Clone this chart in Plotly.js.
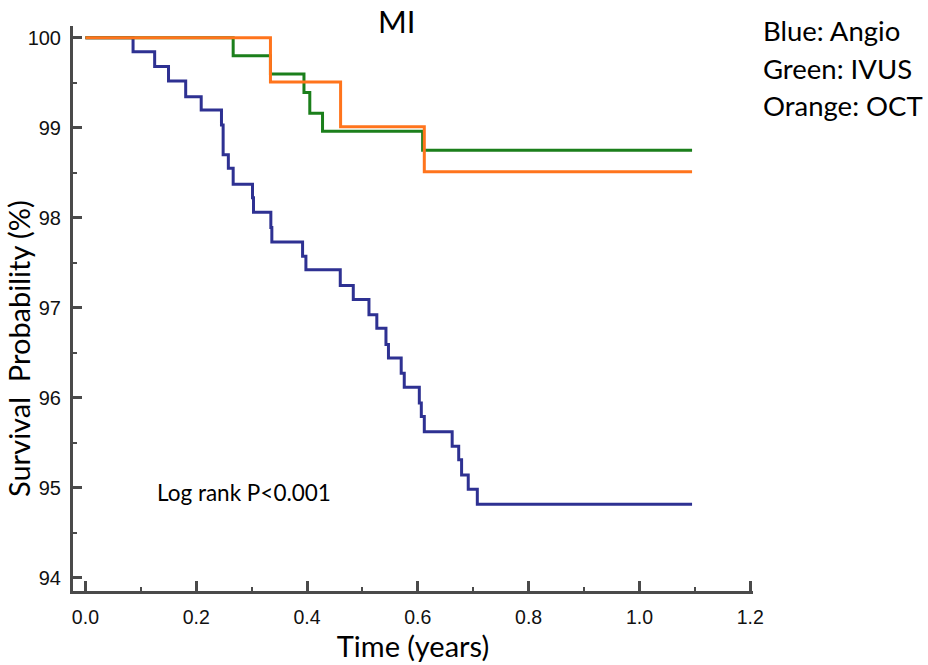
<!DOCTYPE html>
<html>
<head>
<meta charset="utf-8">
<script src="https://cdn.plot.ly/plotly-3.0.1.min.js"></script>
<style>html,body{margin:0;padding:0;background:#fff;}#chart{width:928px;height:665px;}</style>
</head>
<body>
<div id="chart"></div>
<script>
// Kaplan-Meier steps (time in years, survival in %)
var angioTime = [0, 0.086, 0.125, 0.150, 0.181, 0.209, 0.2456, 0.2486, 0.258, 0.2667, 0.3016, 0.3034, 0.3347, 0.3365, 0.392, 0.398, 0.460, 0.4835, 0.5118, 0.526, 0.5425, 0.547, 0.570, 0.5755, 0.6027, 0.6063, 0.6117, 0.662, 0.6738, 0.679, 0.691, 0.7074, 1.095];
var angioSurv = [100, 99.845, 99.68, 99.52, 99.345, 99.197, 99.03, 98.70, 98.55, 98.37, 98.22, 98.06, 97.89, 97.73, 97.57, 97.42, 97.245, 97.09, 96.92, 96.77, 96.59, 96.44, 96.27, 96.115, 95.94, 95.79, 95.62, 95.46, 95.31, 95.14, 94.98, 94.815, 94.815];

var ivusTime = [0, 0.2667, 0.334, 0.3945, 0.405, 0.428, 0.6087, 1.095];
var ivusSurv = [100, 99.8, 99.597, 99.39, 99.16, 98.96, 98.75, 98.75];

var octTime = [0, 0.334, 0.4606, 0.6117, 1.095];
var octSurv = [100, 99.508, 99.01, 98.51, 98.51];

var xTickVals = [0, 0.2, 0.4, 0.6, 0.8, 1.0, 1.2];
var xTickText = ["0.0", "0.2", "0.4", "0.6", "0.8", "1.0", "1.2"];
var yTickVals = [94, 95, 96, 97, 98, 99, 100];

var chartTitle = "MI";
var xTitle = "Time (years)";
var yTitle = "Survival  Probability (%)";
var pText = "Log rank P<0.001";
var legendLines = ["Blue: Angio", "Green: IVUS", "Orange: OCT"];

var axisColor = "#4a4a4a";
var textFont = "Lato, 'Open Sans', sans-serif";
var tickFont = "'Liberation Sans', Arial, sans-serif";

var traces = [
  {x: angioTime, y: angioSurv, name: "Angio", mode: "lines", line: {shape: "hv", color: "#2E3192", width: 3}},
  {x: ivusTime, y: ivusSurv, name: "IVUS", mode: "lines", line: {shape: "hv", color: "#1B7F1B", width: 3}},
  {x: octTime, y: octSurv, name: "OCT", mode: "lines", line: {shape: "hv", color: "#FF741C", width: 3}}
];

var L = 73, R = 753, T = 26, B = 591;
function px(xp){ return (xp - L) / (R - L); }
function py(yp){ return (B - yp) / (B - T); }

var annotations = [
  {text: chartTitle, xref: "paper", yref: "paper", x: px(396), y: py(20.5), xanchor: "center", yanchor: "middle", showarrow: false, font: {family: textFont, size: 31, color: "#000"}},
  {text: pText, xref: "x", yref: "y", x: 0.286, y: 94.94, xanchor: "center", yanchor: "middle", showarrow: false, font: {family: textFont, size: 22.5, color: "#000"}},
  {text: yTitle, xref: "paper", yref: "paper", x: px(18), y: py(349), xanchor: "center", yanchor: "middle", textangle: -90, showarrow: false, font: {family: textFont, size: 29, color: "#000"}}
];
var legendY = [30, 68, 105];
legendLines.forEach(function(t, i){
  annotations.push({text: t, xref: "paper", yref: "paper", x: px(761), y: py(legendY[i]), xanchor: "left", yanchor: "middle", showarrow: false, font: {family: textFont, size: 27.5, color: "#000"}});
});

var layout = {
  width: 928, height: 665,
  margin: {l: L, r: 928 - R, t: T, b: 665 - B, pad: 0},
  paper_bgcolor: "#fff", plot_bgcolor: "#fff",
  showlegend: false,
  xaxis: {
    range: [-0.0224, 1.205], showgrid: false, zeroline: false,
    showline: true, linecolor: axisColor, linewidth: 3,
    ticks: "inside", ticklen: 10, tickwidth: 3, tickcolor: axisColor,
    tickvals: xTickVals, ticktext: xTickText,
    tickfont: {family: tickFont, size: 19.5, color: "#111"},
    ticklabelstandoff: 7,
    minor: {dtick: 0.1, tick0: 0, ticks: "inside", ticklen: 4, tickwidth: 2, tickcolor: axisColor, showgrid: false},
    title: {text: xTitle, font: {family: textFont, size: 29, color: "#000"}, standoff: 9}
  },
  yaxis: {
    range: [93.85, 100.13], showgrid: false, zeroline: false,
    showline: true, linecolor: axisColor, linewidth: 3,
    ticks: "inside", ticklen: 9, tickwidth: 3, tickcolor: axisColor,
    tickvals: yTickVals,
    tickfont: {family: tickFont, size: 20, color: "#111"},
    ticklabelstandoff: 5,
    minor: {dtick: 0.5, tick0: 94, ticks: "inside", ticklen: 4, tickwidth: 2, tickcolor: axisColor, showgrid: false}
  },
  annotations: annotations
};

Plotly.newPlot("chart", traces, layout, {displayModeBar: false, staticPlot: true});
</script>
</body>
</html>
